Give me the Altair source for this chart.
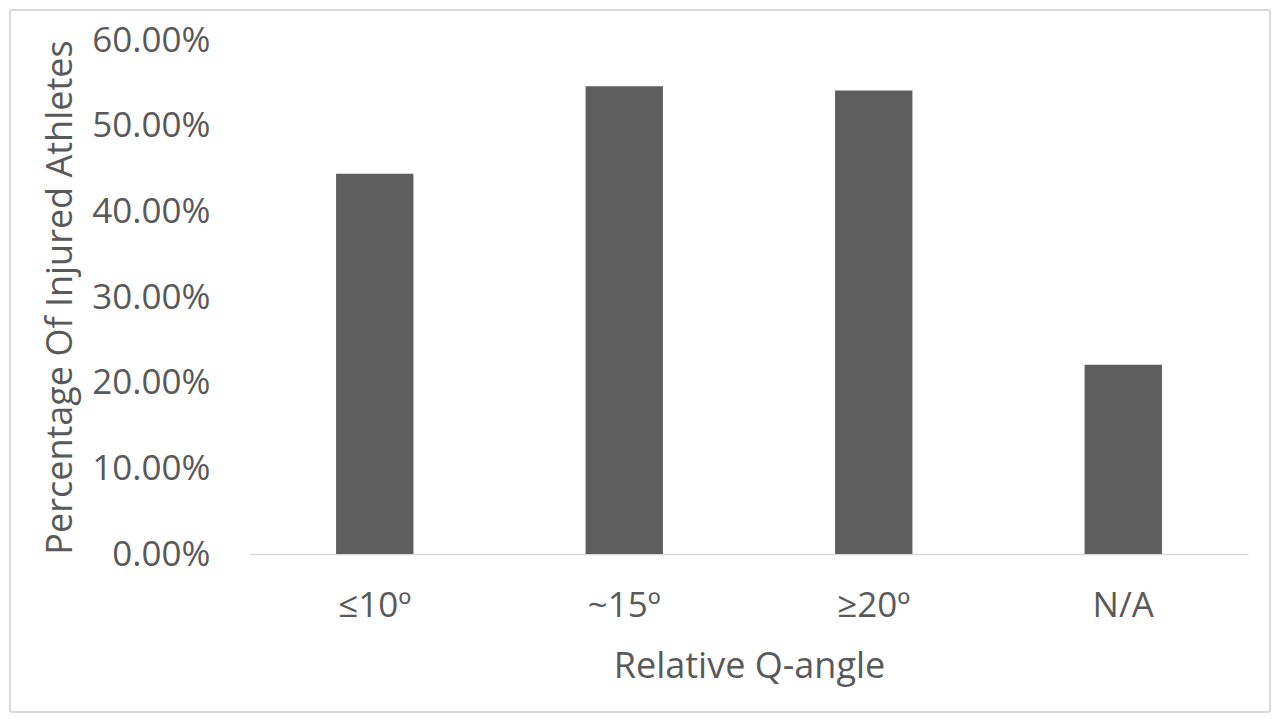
import altair as alt
import pandas as pd

categories = ["≤10º", "~15º", "≥20º", "N/A"]
values = [0.444, 0.546, 0.541, 0.221]

df = pd.DataFrame({"angle": categories, "pct": values})
FONT = "Open Sans"
TXT = "#595959"

bars = alt.Chart(df).mark_bar(color="#5e5e5e").encode(
    x=alt.X("angle:N", sort=categories,
            scale=alt.Scale(paddingInner=0.69, paddingOuter=0.345),
            axis=alt.Axis(title="Relative Q-angle", labelAngle=0, ticks=False,
                          domainColor="#d9d9d9", domainWidth=1.5,
                          labelFont=FONT, labelFontSize=35, labelColor=TXT,
                          labelPadding=34,
                          titleFont=FONT, titleFontSize=36, titleColor=TXT,
                          titleFontWeight="normal", titleY=112, titleBaseline="middle")),
    y=alt.Y("pct:Q", scale=alt.Scale(domain=[0, 0.6]),
            axis=alt.Axis(title="Percentage Of Injured Athletes", format=".2%",
                          values=[0, 0.1, 0.2, 0.3, 0.4, 0.5, 0.6],
                          ticks=False, domain=False, grid=False,
                          labelFont=FONT, labelFontSize=35, labelColor=TXT,
                          labelPadding=40,
                          titleFont=FONT, titleFontSize=36, titleColor=TXT,
                          titleFontWeight="normal", titleX=-190, titleY=257,
                          titleAngle=-90, titleAlign="center", titleBaseline="middle")),
)

border = alt.Chart(pd.DataFrame({"b": [0]})).mark_rect(
    fill="transparent", stroke="#d9d9d9", strokeWidth=2, cornerRadius=2
).encode(
    x=alt.value(-240), x2=alt.value(1020),
    y=alt.value(-30), y2=alt.value(672),
)

chart = alt.layer(border, bars).properties(
    width=998, height=514,
    autosize=alt.AutoSizeParams(type="none"),
    padding={"left": 242, "top": 32, "right": 24, "bottom": 160},
).configure_view(stroke=None)

chart.save("out.html", embed_options={"renderer": "svg", "actions": False})
